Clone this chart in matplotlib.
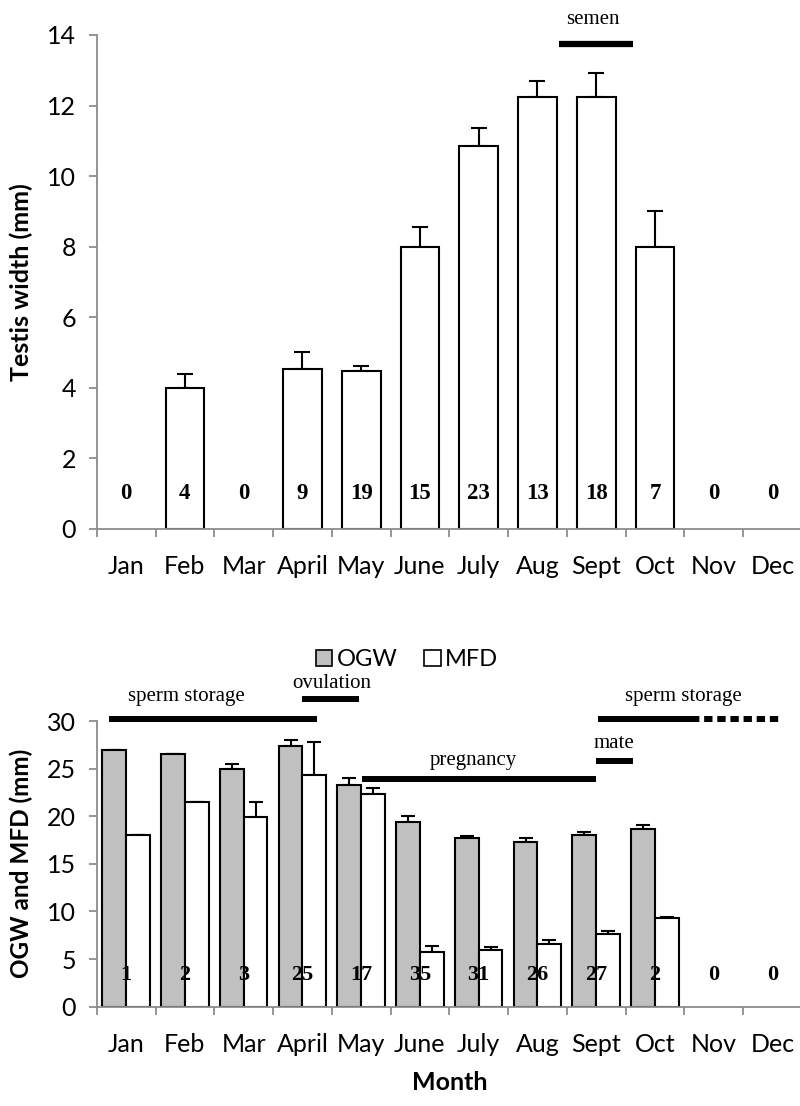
import numpy as np
import matplotlib
matplotlib.use("Agg")
import matplotlib.pyplot as plt
from matplotlib.patches import Patch

plt.rcParams['font.family'] = ['Lato', 'DejaVu Sans']

months = ['Jan', 'Feb', 'Mar', 'April', 'May', 'June', 'July', 'Aug', 'Sept', 'Oct', 'Nov', 'Dec']

# top panel: testis width
testis = [np.nan, 4.0, np.nan, 4.54, 4.48, 7.99, 10.86, 12.23, 12.25, 7.98, np.nan, np.nan]
testis_se = [np.nan, 0.40, np.nan, 0.48, 0.14, 0.57, 0.51, 0.47, 0.66, 1.02, np.nan, np.nan]
n_male = [0, 4, 0, 9, 19, 15, 23, 13, 18, 7, 0, 0]

# bottom panel: OGW and MFD
ogw = [27.0, 26.5, 25.0, 27.42, 23.29, 19.37, 17.75, 17.33, 18.0, 18.66, np.nan, np.nan]
ogw_se = [0, 0, 0.5, 0.58, 0.71, 0.66, 0.21, 0.35, 0.3, 0.39, np.nan, np.nan]
mfd = [18.0, 21.47, 19.96, 24.3, 22.3, 5.75, 5.96, 6.55, 7.6, 9.28, np.nan, np.nan]
mfd_se = [0, 0, 1.5, 3.54, 0.64, 0.66, 0.31, 0.42, 0.35, 0.18, np.nan, np.nan]
n_female = [1, 2, 3, 25, 17, 35, 31, 26, 27, 2, 0, 0]

x = np.arange(len(months))
grey_axis = '#8c8c8c'
serif = ['Liberation Serif', 'DejaVu Serif']
fs = 18

fig = plt.figure(figsize=(8, 11.06), dpi=100)
ax1 = fig.add_axes([0.121, 0.5217, 0.8813, 0.4467])
ax2 = fig.add_axes([0.121, 0.0898, 0.8813, 0.2583])


def style(ax):
    ax.set_xlim(-0.5, 11.5)
    for s in ['top', 'right']:
        ax.spines[s].set_visible(False)
    for s in ['left', 'bottom']:
        ax.spines[s].set_color(grey_axis)
        ax.spines[s].set_linewidth(1.3)
    ax.set_xticks(np.arange(-0.5, 12, 1))
    ax.set_xticklabels([])
    ax.set_xticks(x, minor=True)
    ax.set_xticklabels(months, minor=True)
    ax.tick_params(axis='x', which='major', length=6, width=1.3, color=grey_axis, direction='out')
    ax.tick_params(axis='x', which='minor', length=0, pad=19, labelsize=fs)
    ax.tick_params(axis='y', length=6, width=1.3, color=grey_axis, labelsize=fs, pad=9)


# ---- top panel
style(ax1)
t = np.array(testis)
m = ~np.isnan(t)
ax1.bar(x[m], t[m], width=0.66, color='white', edgecolor='black', linewidth=1.5, zorder=2)
ax1.errorbar(x[m], t[m], yerr=[np.zeros(m.sum()), np.array(testis_se)[m]], fmt='none',
             ecolor='black', elinewidth=1.5, capsize=6, capthick=1.5, zorder=1)
ax1.set_ylim(0, 14)
ax1.set_yticks(range(0, 15, 2))
ax1.set_ylabel('Testis width (mm)', fontsize=fs, fontweight='bold')
ax1.yaxis.set_label_coords(-0.09, 0.5)
for i, n in enumerate(n_male):
    ax1.text(i, 1.0, str(n), ha='center', va='center', fontsize=16.5, fontweight='bold', family=serif, zorder=3)
ax1.plot([7.37, 8.63], [13.75, 13.75], color='black', lw=4.5, solid_capstyle='butt', clip_on=False)
ax1.text(7.95, 14.44, 'semen', ha='center', va='center', fontsize=15, family=serif, clip_on=False)

# ---- bottom panel
style(ax2)
o = np.array(ogw)
f = np.array(mfd)
m2 = ~np.isnan(o)
w = 0.405
ax2.bar(x[m2] - w / 2, o[m2], width=w, color='#c0c0c0', edgecolor='black', linewidth=1.5, zorder=2)
ax2.bar(x[m2] + w / 2, f[m2], width=w, color='white', edgecolor='black', linewidth=1.5, zorder=2)
ax2.errorbar(x[m2] - w / 2, o[m2], yerr=[np.zeros(m2.sum()), np.array(ogw_se)[m2]], fmt='none',
             ecolor='black', elinewidth=1.5, capsize=5, capthick=1.5, zorder=1)
ax2.errorbar(x[m2] + w / 2, f[m2], yerr=[np.zeros(m2.sum()), np.array(mfd_se)[m2]], fmt='none',
             ecolor='black', elinewidth=1.5, capsize=5, capthick=1.5, zorder=1)
ax2.set_ylim(0, 30)
ax2.set_yticks(range(0, 31, 5))
ax2.set_ylabel('OGW and MFD (mm)', fontsize=17.5, fontweight='bold')
ax2.yaxis.set_label_coords(-0.09, 0.5)
ax2.set_xlabel('Month', fontsize=fs, fontweight='bold')
ax2.xaxis.set_label_coords(0.5, -0.225)
for i, n in enumerate(n_female):
    ax2.text(i, 3.3, str(n), ha='center', va='center', fontsize=16, fontweight='bold', family=serif, zorder=3)

# reproductive phases
bar_kw = dict(color='black', lw=4.3, solid_capstyle='butt', clip_on=False)
ax2.plot([-0.29, 3.24], [30.2, 30.2], **bar_kw)
ax2.plot([2.99, 3.97], [32.28, 32.28], **bar_kw)
ax2.plot([4.01, 7.99], [23.88, 23.88], **bar_kw)
ax2.plot([8.0, 8.63], [25.77, 25.77], **bar_kw)
ax2.plot([8.03, 9.61], [30.2, 30.2], **bar_kw)
ax2.plot([9.61, 11.14], [30.2, 30.2], color='black', lw=4.3, linestyle=(0, (1.4, 0.8)),
         dash_capstyle='butt', clip_on=False)
txt_kw = dict(ha='center', va='center', fontsize=15, family=serif, clip_on=False)
ax2.text(1.03, 32.6, 'sperm storage', **txt_kw)
ax2.text(3.5, 33.96, 'ovulation', **txt_kw)
ax2.text(5.91, 25.83, 'pregnancy', **txt_kw)
ax2.text(8.3, 27.6, 'mate', **txt_kw)
ax2.text(9.48, 32.6, 'sperm storage', **txt_kw)

handles = [Patch(facecolor='#c0c0c0', edgecolor='black', linewidth=1.2, label='OGW'),
           Patch(facecolor='white', edgecolor='black', linewidth=1.2, label='MFD')]
fig.legend(handles=handles, loc='center', bbox_to_anchor=(0.509, 0.4033), ncol=2, frameon=False,
           fontsize=17, handlelength=0.7, handleheight=0.7, handletextpad=0.2, columnspacing=1.1)

fig.savefig('out.png', dpi=100)
